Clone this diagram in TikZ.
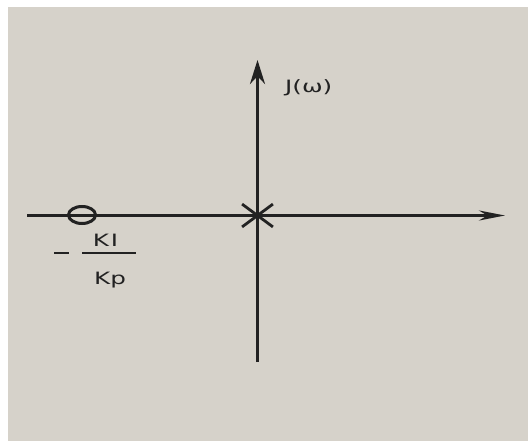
\documentclass[tikz,border=0pt]{standalone}
\usepackage{fontspec}
\setmainfont{DejaVu Sans}
\newfontfamily\wide[FakeStretch=1.45]{DejaVu Sans}
\definecolor{paper}{RGB}{214,210,202}
\definecolor{ink}{RGB}{34,34,34}
\usetikzlibrary{arrows.meta, positioning, shapes.geometric, shapes.misc}

\begin{document}
\begin{tikzpicture}[x=1pt, y=-1pt,
   axis/.style={ink, line width=3pt},
   lbl/.style={ink, font=\wide\fontsize{17}{19}\selectfont, inner sep=0pt}]
   % Paper
   \useasboundingbox (0,0) rectangle (528,441);
   \fill[paper] (8,7) rectangle (528,441);
   % Axes
   \coordinate (O) at (257.5,215.5);
   \coordinate (re0) at (27,215.5);
   \coordinate (re1) at (505,215.5);
   \coordinate (im0) at (257.5,362);
   \coordinate (im1) at (257.5,60);
   \draw[axis, -{Stealth[length=26pt, width=10pt]}] (re0) -- (re1);
   \draw[axis, -{Stealth[length=24pt, width=15pt]}] (im0) -- (im1);
   \node[lbl, anchor=west] (jw) at (285,88) {J(ω)};
   % Pole at the origin
   \node[draw=ink, cross out, line width=2.8pt, minimum width=28pt,
      minimum height=20pt, inner sep=0pt] (pole) at (O) {};
   % Zero at -KI/Kp
   \node[draw=ink, ellipse, line width=3pt, minimum width=27pt,
      minimum height=17pt, inner sep=0pt] (zero) at (82,215) {};
   \node[lbl] (ki) at (105.5,240) {K\hspace{2pt}I};
   \node[lbl] (kp) at (110,280) {Kp};
   \draw[ink, line width=1.5pt] (82,253) -- (136,253);
   \draw[ink, line width=1.5pt] (54,253) -- (69,253);
\end{tikzpicture}
\end{document}
